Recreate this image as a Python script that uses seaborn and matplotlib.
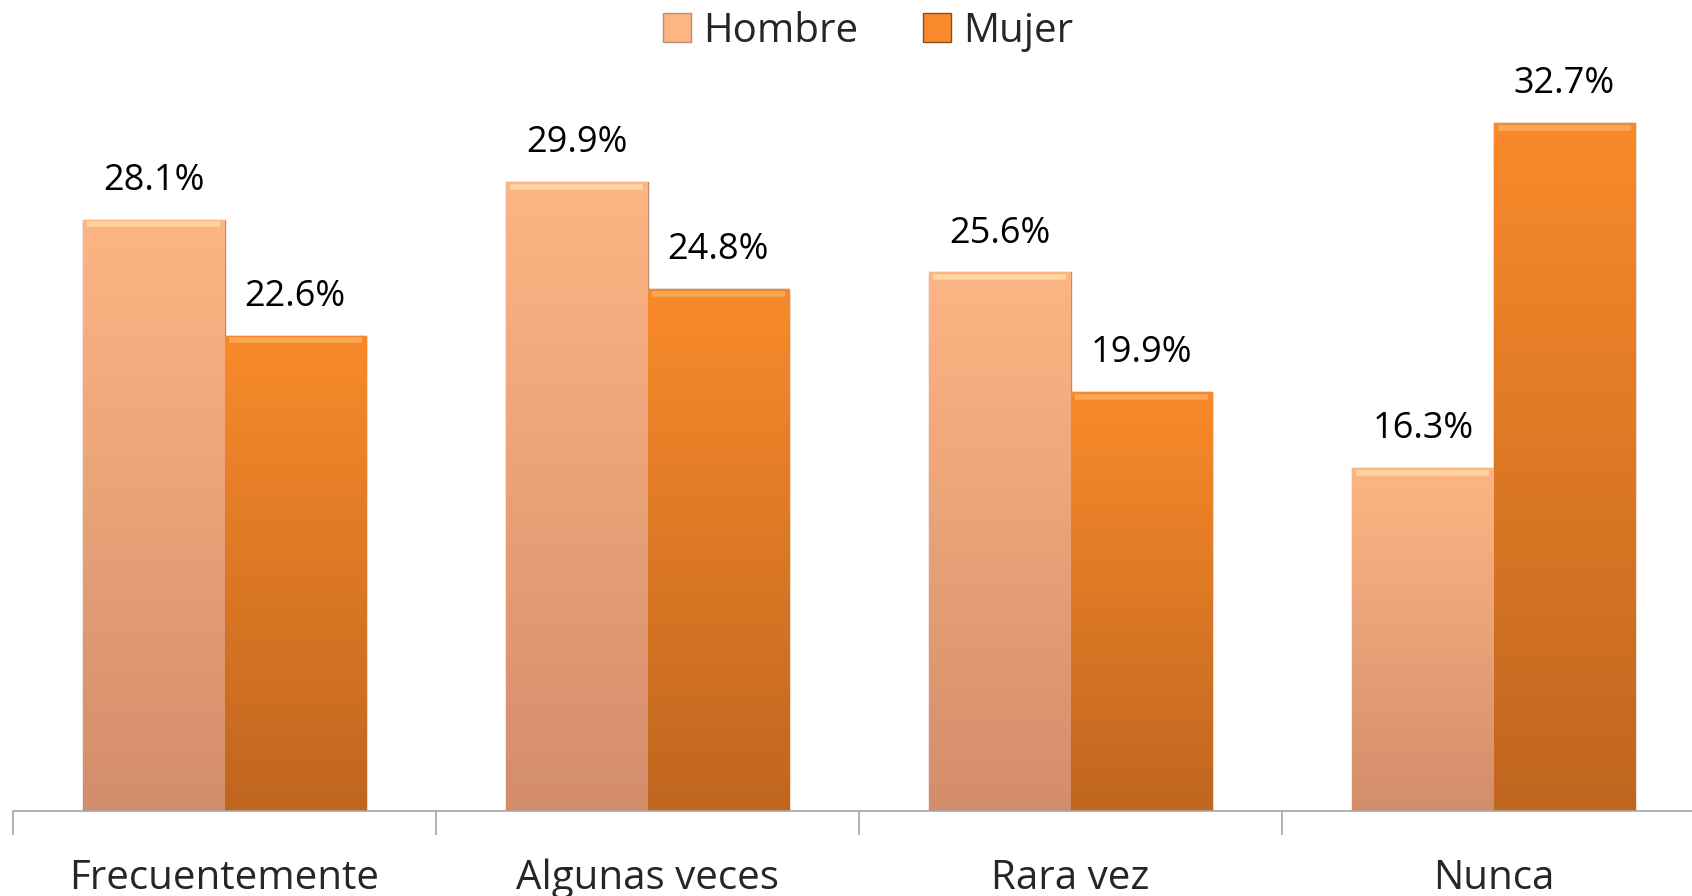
import numpy as np
import pandas as pd
import matplotlib.pyplot as plt
import seaborn as sns
from matplotlib.colors import LinearSegmentedColormap

categorias = ['Frecuentemente', 'Algunas veces', 'Rara vez', 'Nunca']
hombre = [28.1, 29.9, 25.6, 16.3]
mujer = [22.6, 24.8, 19.9, 32.7]
series = ['Hombre', 'Mujer']

df = pd.DataFrame({
    'categoria': categorias * 2,
    'sexo': ['Hombre'] * len(categorias) + ['Mujer'] * len(categorias),
    'valor': hombre + mujer,
})

# top / bottom colours of the gradient for each series
grad = {
    'Hombre': ('#FEB584', '#D48D6B'),
    'Mujer': ('#F98A2B', '#C0661F'),
}
edges = {'Hombre': '#B88D78', 'Mujer': '#8A4E1E'}

sns.set_style('white')
plt.rcParams['font.family'] = ['Open Sans', 'DejaVu Sans']

fig = plt.figure(figsize=(16.92, 8.96), dpi=100)
ax = fig.add_axes([0.0077, 0.0949, 1.0, 0.857])

sns.barplot(data=df, x='categoria', y='valor', hue='sexo', order=categorias,
            hue_order=series, palette=[grad[s][0] for s in series],
            width=0.668, saturation=1, legend=False, ax=ax)

ax.set_xlim(-0.5, len(categorias) - 0.5)
ax.set_ylim(0, 36.5)

# gradient fill clipped to each bar
for cont, s in zip(ax.containers, series):
    cmap = LinearSegmentedColormap.from_list(s, [grad[s][1], grad[s][0]])
    for p in cont:
        x0, y0 = p.get_x(), p.get_y()
        w, h = p.get_width(), p.get_height()
        p.set_edgecolor(edges[s])
        p.set_linewidth(1.0)
        img = ax.imshow(np.linspace(0, 1, 256).reshape(-1, 1), cmap=cmap,
                        extent=(x0, x0 + w, y0, y0 + h), origin='lower',
                        aspect='auto', zorder=p.get_zorder() + 0.1)
        img.set_clip_path(p)
        # light bevel at the top of the bar
        ax.plot([x0 + 0.01, x0 + w - 0.01], [y0 + h - 0.22] * 2,
                color='#FFE3B0' if s == 'Hombre' else '#FDB56A', lw=4,
                alpha=0.7, zorder=p.get_zorder() + 0.2, solid_capstyle='butt')
    ax.bar_label(cont, labels=[f'{v:.1f}%' for v in cont.datavalues],
                 padding=15, fontsize=26, color='black')

ax.set_xlim(-0.5, len(categorias) - 0.5)
ax.set_ylim(0, 36.5)

sns.despine(ax=ax, left=True, top=True, right=True)
ax.spines['bottom'].set_color('#A6A6A6')
ax.spines['bottom'].set_linewidth(1.2)
ax.set_yticks([])
ax.set_xlabel('')
ax.set_ylabel('')
ax.set_xticks(range(len(categorias)))
ax.set_xticklabels(categorias, fontsize=29)
ax.tick_params(axis='x', which='major', length=0, pad=34)
ax.set_xticks(np.arange(-0.5, len(categorias) + 0.5, 1), minor=True)
ax.tick_params(axis='x', which='minor', bottom=True, length=17, width=1.2,
               color='#A6A6A6')

handles = [plt.Rectangle((0, 0), 1, 1, facecolor=grad[s][0], edgecolor=edges[s])
           for s in series]
fig.legend(handles, series, loc='center', bbox_to_anchor=(0.513, 0.965), ncol=2,
           frameon=False, fontsize=29, handlelength=0.7, handleheight=0.7,
           handletextpad=0.3, columnspacing=1.6)

fig.savefig('out.png', dpi=100)
